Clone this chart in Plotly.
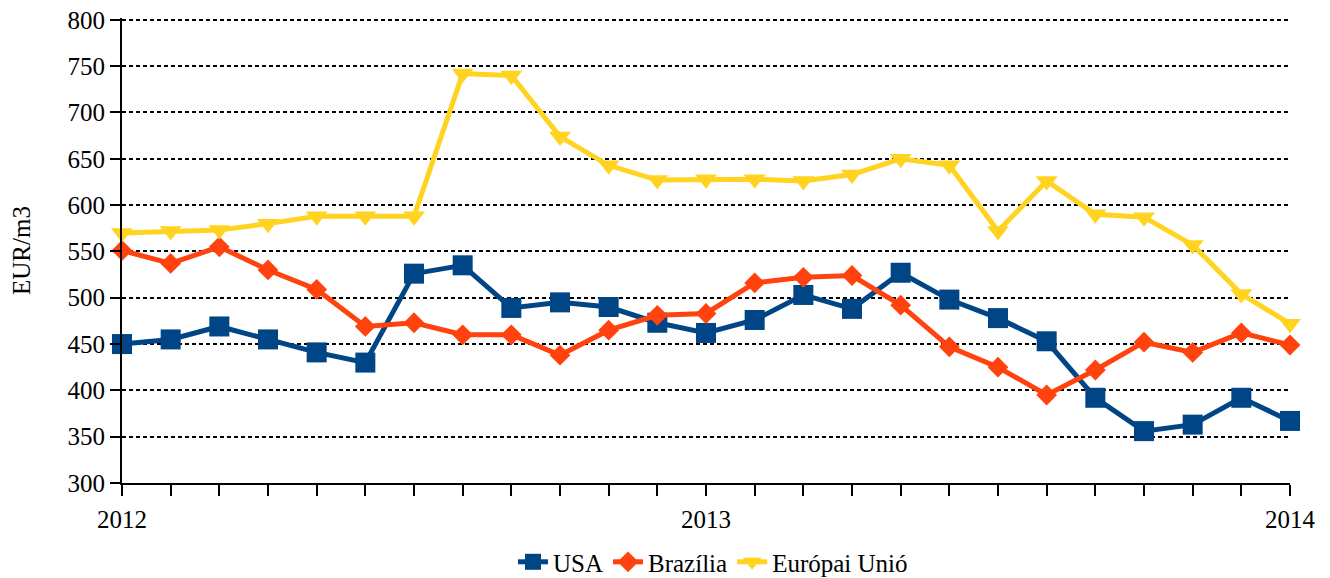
import plotly.graph_objects as go

months = list(range(25))
tick_text = ['2012'] + [''] * 11 + ['2013'] + [''] * 11 + ['2014']

usa = [450, 455, 469, 455, 441, 430, 526, 535, 489, 495, 490, 473, 462,
       476, 503, 488, 527, 498, 478, 453, 392, 356, 363, 392, 367]
brazil = [551, 537, 555, 530, 509, 469, 473, 460, 460, 438, 465, 481, 483,
          516, 522, 524, 492, 447, 425, 395, 422, 452, 441, 462, 449]
eu = [570, 572, 573, 580, 588, 588, 588, 742, 740, 674, 643, 627, 628,
      628, 626, 633, 650, 643, 572, 626, 590, 587, 557, 504, 472]

series = [
    ('USA', usa, '#004586', 'square', 20),
    ('Brazília', brazil, '#ff420e', 'diamond', 16),
    ('Európai Unió', eu, '#ffd320', 'triangle-down', 19),
]

tfont = dict(family='Liberation Serif', size=25, color='black')

fig = go.Figure()
for name, vals, col, sym, size in series:
    fig.add_trace(go.Scatter(
        x=months, y=vals, name=name, mode='lines+markers',
        line=dict(color=col, width=5),
        marker=dict(symbol=sym, size=size, color=col),
        cliponaxis=False,
    ))

# page body has an 8px margin, so the figure is shifted by 8px
fig.update_layout(
    width=1322, height=570,
    paper_bgcolor='white', plot_bgcolor='white',
    margin=dict(l=114, r=40, t=10, b=95),
    font=tfont,
    showlegend=True,
    legend=dict(orientation='h', x=0.506, xanchor='center',
                yref='container', y=0.028, yanchor='middle',
                font=tfont),
    xaxis=dict(
        range=[0, 24], tickmode='array', tickvals=months, ticktext=tick_text,
        ticks='outside', ticklen=11, tickwidth=2, tickcolor='black',
        tickfont=tfont, automargin=False,
        showline=True, linecolor='black', linewidth=2,
        showgrid=False, zeroline=False, ticklabelstandoff=2,
    ),
    yaxis=dict(
        range=[300, 802], tickvals=list(range(300, 801, 50)),
        ticks='outside', ticklen=10, tickwidth=2,
        tickcolor='black', tickfont=tfont, automargin=False,
        ticklabeloverflow='allow',
        showline=True, linecolor='black', linewidth=2,
        showgrid=True, gridcolor='black', gridwidth=2, griddash='4px,3px',
        zeroline=False,
        title=dict(text='EUR/m3', font=tfont, standoff=42),
    ),
)

fig.write_html('out.html')
